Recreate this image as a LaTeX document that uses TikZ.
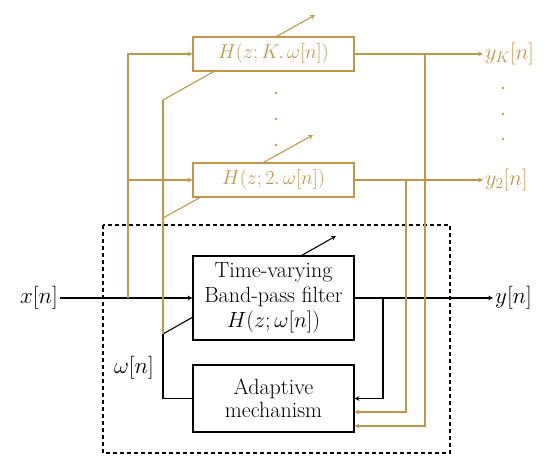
\RequirePackage{fix-cm}
\documentclass[tikz,border=0pt]{standalone}
\usepackage{fontspec}
\usepackage{tikz}
\definecolor{filtgold}{RGB}{190,152,70}

\begin{document}
\begin{tikzpicture}[x=1pt, y=-1pt, >=stealth,
  blk/.style={draw, line width=1.3pt, fill=white, align=center, inner sep=0pt,
    minimum width=161pt, font=\fontsize{22}{25}\selectfont},
  gbox/.style={draw=filtgold, line width=1.2pt, fill=white, inner sep=0pt,
    minimum width=161pt, minimum height=34pt, text=filtgold, font=\fontsize{20}{22}\selectfont},
  lbl/.style={font=\fontsize{23}{25}\selectfont, inner sep=2pt},
  glbl/.style={font=\fontsize{22}{24}\selectfont, text=filtgold, inner sep=2pt},
  gline/.style={filtgold, line width=1.1pt},
  sig/.style={line width=1.1pt}]
\useasboundingbox (0,0) rectangle (550,470);
\draw[line width=1.2pt, dash pattern=on 4pt off 3pt] (103,225) rectangle (450,453);
% tuning arrows (boxes are drawn over them)
\coordinate (wb) at (163,334);
\coordinate (w2) at (163,218);
\coordinate (wK) at (163,100);
\draw[sig,->] (wb) -- ++(173,-98);
\draw[gline,->] (w2) -- ++(150,-83);
\draw[gline,->] (wK) -- ++(152,-85);
% blocks
\node[blk, minimum height=84pt] (bpf) at (273.5,298) {Time-varying\\Band-pass filter\\$H(z;\omega[n])$};
\node[blk, minimum height=67pt, font=\fontsize{22}{23}\selectfont] (adapt) at (273.5,398.5) {Adaptive\\mechanism};
\node[gbox] (fK) at (273.5,54) {$H(z;K.\,\omega[n])$};
\node[gbox] (f2) at (273.5,180) {$H(z;2.\,\omega[n])$};
% signals
\node[lbl, anchor=east] (xin) at (60,298) {$x[n]$};
\node[lbl, anchor=west] (yout) at (493,298) {$y[n]$};
\node[glbl, anchor=west] (yK) at (483,54) {$y_K[n]$};
\node[glbl, anchor=west] (y2) at (483,180) {$y_2[n]$};
\node[lbl] (omega) at (134,368) {$\omega[n]$};
\coordinate (xs) at (128,298);
\coordinate (ys) at (383,298);
\coordinate (s2) at (406,180);
\coordinate (sK) at (425,54);
\draw[sig,->] (xin.east) -- (bpf.west);
\draw[sig,->] (bpf.east) -- (yout.west);
\draw[sig,->] (ys) |- (adapt.east);
\draw[sig] (adapt.west) -| (wb);
\draw[gline] (wb) -- (wK);
\draw[gline,->] (xs) |- (fK.west);
\draw[gline,->] (xs |- f2.west) -- (f2.west);
\draw[gline,->] (fK.east) -- (yK.west);
\draw[gline,->] (f2.east) -- (y2.west);
\draw[gline,->] (s2) |- ([yshift=-13.5pt]adapt.east);
\draw[gline,->] (sK) |- ([yshift=-27.5pt]adapt.east);
% dots
\foreach \y in {93,119,145} \fill[filtgold] (276,\y) circle (1.4);
\foreach \y in {88,114,139} \fill[filtgold] (503,\y) circle (1.4);
\end{tikzpicture}
\end{document}
